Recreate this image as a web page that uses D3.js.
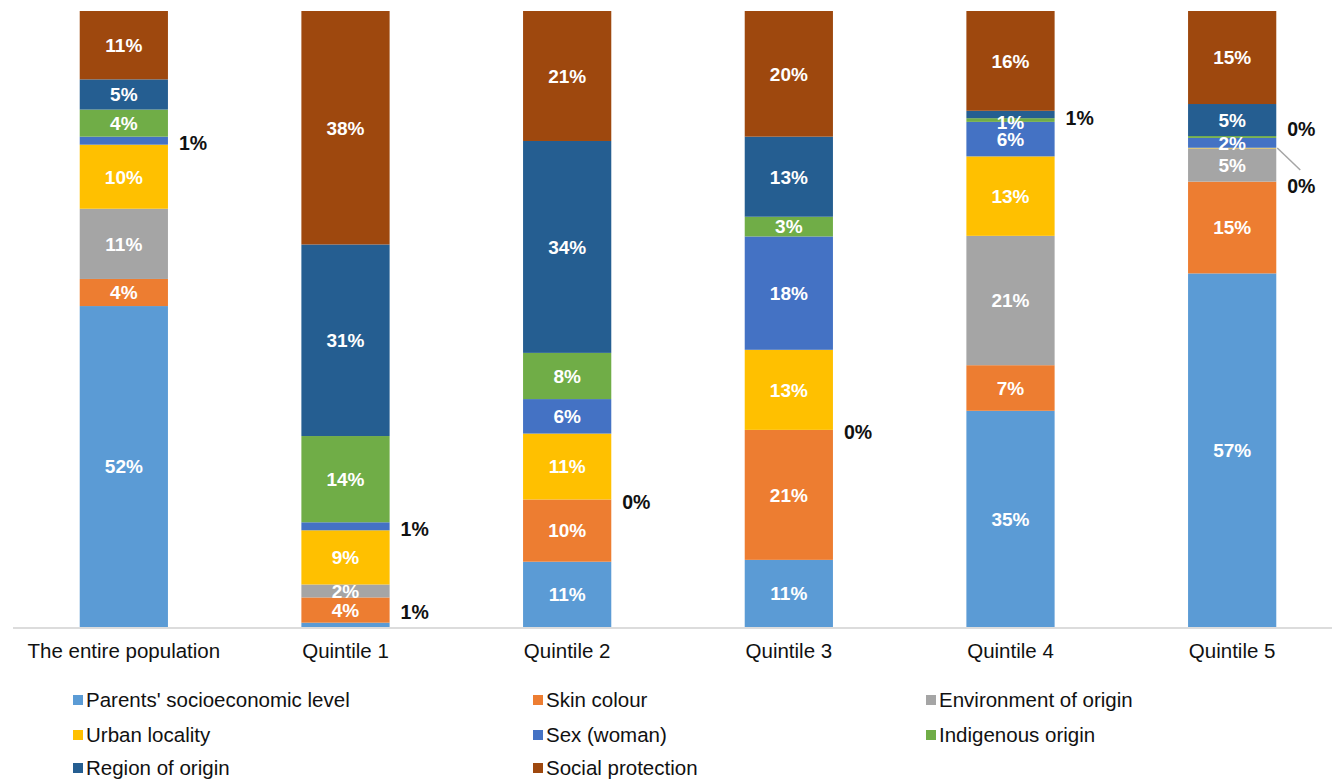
<!DOCTYPE html>
<html>
<head>
<meta charset="utf-8">
<script src="https://cdn.jsdelivr.net/npm/d3@7"></script>
<style>
  body { margin: 0; background: #fff; }
  text { font-family: "Liberation Sans", Arial, sans-serif; }
</style>
</head>
<body>
<script>
// categories and series (bottom to top of each stack)
var categories = ["The entire population", "Quintile 1", "Quintile 2", "Quintile 3", "Quintile 4", "Quintile 5"];
var seriesNames = ["Parents' socioeconomic level", "Skin colour", "Environment of origin", "Urban locality",
                   "Sex (woman)", "Indigenous origin", "Region of origin", "Social protection"];
var seriesColors = ["#5b9bd5", "#ed7d31", "#a5a5a5", "#ffc000", "#4472c4", "#70ad47", "#255e91", "#9e480e"];

// shares in %, one array per series, in category order
var parents     = [52.1,  0.7, 10.6, 10.9, 35.1, 57.4];
var skin        = [ 4.4,  4.1, 10.1, 21.1,  7.4, 14.9];
var environment = [11.4,  2.1,  0.0,  0.0, 21.0,  5.4];
var urban       = [10.4,  8.8, 10.7, 13.0, 12.9,  0.1];
var sex         = [ 1.3,  1.3,  5.6, 18.4,  5.6,  1.6];
var indigenous  = [ 4.4, 14.0,  7.5,  3.2,  0.6,  0.3];
var region      = [ 4.9, 31.1, 34.4, 13.0,  1.2,  5.2];
var social      = [11.1, 37.9, 21.1, 20.4, 16.2, 15.1];

var seriesValues = [parents, skin, environment, urban, sex, indigenous, region, social];

var width = 1332, height = 781;
var plotTop = 11, baseline = 627;

var svg = d3.select("body").append("svg")
    .attr("width", width)
    .attr("height", height);

var rows = categories.map(function(c, i) {
  var r = { cat: c };
  seriesNames.forEach(function(s, j) { r[s] = seriesValues[j][i]; });
  return r;
});

var x = d3.scaleBand()
    .domain(categories)
    .range([13, 1343])
    .paddingInner(0.602)
    .paddingOuter(0.301);

var y = d3.scaleLinear()
    .domain([0, 100])
    .range([baseline, plotTop]);

var color = d3.scaleOrdinal().domain(seriesNames).range(seriesColors);

var stacked = d3.stack().keys(seriesNames)(rows);

// bars
var layers = svg.append("g").attr("class", "bars")
  .selectAll("g")
  .data(stacked)
  .enter().append("g")
    .attr("fill", function(d) { return color(d.key); });

layers.selectAll("rect")
  .data(function(d) { return d; })
  .enter().append("rect")
    .attr("x", function(d) { return x(d.data.cat); })
    .attr("width", x.bandwidth())
    .attr("y", function(d) { return y(d[1]); })
    .attr("height", function(d) { return y(d[0]) - y(d[1]); });

// baseline
svg.append("line")
    .attr("x1", 13).attr("x2", width)
    .attr("y1", baseline + 1).attr("y2", baseline + 1)
    .attr("stroke", "#d0d0d0")
    .attr("stroke-width", 1.5);

// category axis
var xAxis = svg.append("g")
    .attr("transform", "translate(0," + (baseline + 1) + ")")
    .call(d3.axisBottom(x).tickSize(0).tickPadding(15));
xAxis.select(".domain").remove();
xAxis.selectAll("text")
    .attr("font-family", "Liberation Sans, Arial, sans-serif")
    .attr("font-size", 20.5)
    .attr("fill", "#111");

// value labels
var fmt = function(v) { return Math.round(v) + "%"; };

// label tweaks: which small segments are labelled beside the bar and nudges
var outside = {
  "The entire population|Sex (woman)": 2,
  "Quintile 1|Sex (woman)": 3,
  "Quintile 1|Parents' socioeconomic level": -13,
  "Quintile 2|Environment of origin": 2,
  "Quintile 3|Environment of origin": 2,
  "Quintile 4|Indigenous origin": -2,
  "Quintile 5|Indigenous origin": -8,
  "Quintile 5|Urban locality": 38
};
var insideNudge = { "Quintile 4|Region of origin": 8 };

var labels = [];
stacked.forEach(function(layer) {
  layer.forEach(function(d) {
    var k = d.data.cat + "|" + layer.key;
    var mid = (y(d[0]) + y(d[1])) / 2;
    if (k in outside) {
      labels.push({ k: k, out: true, cat: d.data.cat, y: mid + outside[k], anchorY: mid, v: d[1] - d[0] });
    } else if (d[1] - d[0] >= 1.5 || k in insideNudge) {
      labels.push({ k: k, out: false, cat: d.data.cat, y: mid + (insideNudge[k] || 0), v: d[1] - d[0] });
    }
  });
});

svg.append("g").selectAll("text")
  .data(labels.filter(function(d) { return !d.out; }))
  .enter().append("text")
    .attr("x", function(d) { return x(d.cat) + x.bandwidth() / 2; })
    .attr("y", function(d) { return d.y; })
    .attr("dy", "0.36em")
    .attr("text-anchor", "middle")
    .attr("font-size", 19)
    .attr("font-weight", "bold")
    .attr("fill", "#fff")
    .text(function(d) { return fmt(d.v); });

var outLabels = labels.filter(function(d) { return d.out; });

// leader line for the label pushed down
outLabels.filter(function(d) { return d.y - d.anchorY > 20; }).forEach(function(d) {
  var x0 = x(d.cat) + x.bandwidth();
  svg.append("line")
      .attr("x1", x0 + 1).attr("y1", d.anchorY)
      .attr("x2", x0 + 24).attr("y2", d.y - 16)
      .attr("stroke", "#a5a5a5")
      .attr("stroke-width", 1.5);
});

svg.append("g").selectAll("text")
  .data(outLabels)
  .enter().append("text")
    .attr("x", function(d) { return x(d.cat) + x.bandwidth() + 11; })
    .attr("y", function(d) { return d.y; })
    .attr("dy", "0.36em")
    .attr("font-size", 19.5)
    .attr("font-weight", "bold")
    .attr("fill", "#111")
    .text(function(d) { return fmt(d.v); });

// legend, three columns filled row by row
var legendCols = [73, 533, 926];
var legendRows = [700, 735, 768];

var legend = svg.append("g").selectAll("g")
  .data(seriesNames)
  .enter().append("g")
    .attr("transform", function(d, i) {
      return "translate(" + legendCols[i % 3] + "," + legendRows[Math.floor(i / 3)] + ")";
    });

legend.append("rect")
    .attr("x", 0).attr("y", -5)
    .attr("width", 10).attr("height", 10)
    .attr("fill", function(d) { return color(d); });

legend.append("text")
    .attr("x", 13)
    .attr("dy", "0.36em")
    .attr("font-size", 20.5)
    .attr("fill", "#111")
    .text(function(d) { return d; });
</script>
</body>
</html>
